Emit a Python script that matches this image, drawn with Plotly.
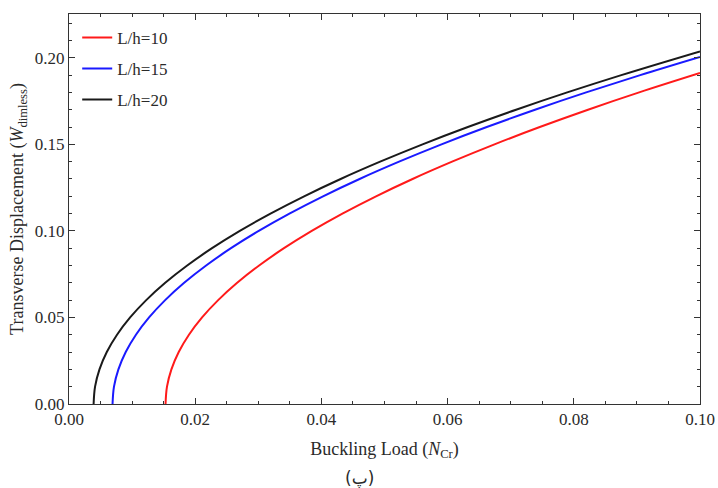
import plotly.graph_objects as go

# Buckling load N_Cr and dimensionless transverse displacement for three slenderness ratios
n_lh10 = [0.0153, 0.01553, 0.01623, 0.01739, 0.01901, 0.02109, 0.02364, 0.02665, 0.03013, 0.03407,
          0.03847, 0.04333, 0.04866, 0.05445, 0.06071, 0.06743, 0.07461, 0.08225, 0.09036, 0.100]
w_lh10 = [0.0, 0.010, 0.020, 0.030, 0.040, 0.050, 0.060, 0.070, 0.080, 0.090,
          0.100, 0.110, 0.120, 0.130, 0.140, 0.150, 0.160, 0.170, 0.180, 0.1912]

n_lh15 = [0.0069, 0.00713, 0.00783, 0.00899, 0.01061, 0.01269, 0.01524, 0.01825, 0.02173, 0.02567,
          0.03007, 0.03493, 0.04026, 0.04605, 0.05231, 0.05903, 0.06621, 0.07385, 0.08196, 0.09053, 0.100]
w_lh15 = [0.0, 0.010, 0.020, 0.030, 0.040, 0.050, 0.060, 0.070, 0.080, 0.090,
          0.100, 0.110, 0.120, 0.130, 0.140, 0.150, 0.160, 0.170, 0.180, 0.190, 0.2005]

n_lh20 = [0.0039, 0.00413, 0.00483, 0.00599, 0.00761, 0.00969, 0.01224, 0.01525, 0.01873, 0.02267,
          0.02707, 0.03193, 0.03726, 0.04305, 0.04931, 0.05603, 0.06321, 0.07085, 0.07896, 0.08753, 0.100]
w_lh20 = [0.0, 0.010, 0.020, 0.030, 0.040, 0.050, 0.060, 0.070, 0.080, 0.090,
          0.100, 0.110, 0.120, 0.130, 0.140, 0.150, 0.160, 0.170, 0.180, 0.190, 0.2037]

series = [
    ("L/h=10", n_lh10, w_lh10, "#ff1a1a"),
    ("L/h=15", n_lh15, w_lh15, "#1a1aff"),
    ("L/h=20", n_lh20, w_lh20, "#1a1a1a"),
]

FONT = "Liberation Serif, Times New Roman, serif"
AXIS_COLOR = "#333333"
TEXT_COLOR = "#2a2a2a"

fig = go.Figure()
for i, (name, n, w, color) in enumerate(series):
    fig.add_trace(go.Scatter(
        x=n, y=w, mode="lines", name=name,
        line=dict(color=color, width=2, shape="spline", smoothing=1.0),
        legendgroup=f"g{i}",
    ))

axis_common = dict(
    showline=True, linecolor=AXIS_COLOR, linewidth=1, mirror="ticks",
    ticks="inside", ticklen=6, tickwidth=1, tickcolor=AXIS_COLOR,
    showgrid=False, zeroline=False, automargin=False,
    tickfont=dict(family=FONT, size=17, color=TEXT_COLOR),
    tickformat=".2f",
)

fig.update_xaxes(
    range=[0, 0.1], dtick=0.02,
    minor=dict(ticks="inside", ticklen=3, dtick=0.005, tickcolor=AXIS_COLOR),
    title=dict(text="Buckling Load (<i>N</i><sub>Cr</sub>)",
               font=dict(family=FONT, size=18, color=TEXT_COLOR), standoff=13),
    **axis_common,
)
fig.update_yaxes(
    range=[0, 0.2253], dtick=0.05,
    minor=dict(ticks="inside", ticklen=3, dtick=0.01, tickcolor=AXIS_COLOR),
    title=dict(text="Transverse Displacement (<i>W</i><sub>dimless</sub>)",
               font=dict(family=FONT, size=18, color=TEXT_COLOR), standoff=6),
    **axis_common,
)

fig.update_layout(
    width=718, height=488,
    margin=dict(l=69, r=18, t=14, b=84),
    paper_bgcolor="white", plot_bgcolor="white",
    font=dict(family=FONT, color=TEXT_COLOR),
    legend=dict(
        x=0.013, y=0.985, xanchor="left", yanchor="top",
        font=dict(family=FONT, size=17, color=TEXT_COLOR),
        bgcolor="rgba(0,0,0,0)", tracegroupgap=6,
    ),
    annotations=[dict(
        text="(پ)", xref="paper", yref="paper", x=0.4596, y=-0.19,
        xanchor="center", yanchor="middle", showarrow=False,
        font=dict(family="DejaVu Sans, Noto Sans, sans-serif", size=17, color=TEXT_COLOR),
    )],
)

fig.write_html("out.html")
